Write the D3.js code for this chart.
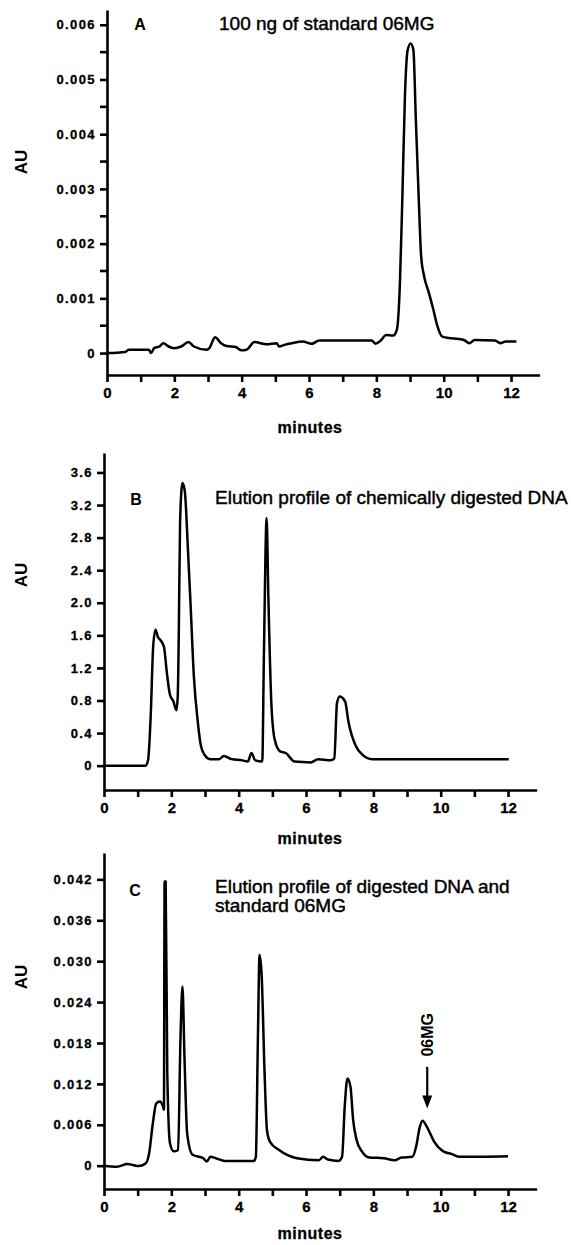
<!DOCTYPE html>
<html>
<head>
<meta charset="utf-8">
<script src="https://cdn.jsdelivr.net/npm/d3@7"></script>
<style>
  body { margin: 0; background: #fff; }
  svg { display: block; font-family: "Liberation Sans", Arial, sans-serif; }
</style>
</head>
<body>
<div id="chart"></div>
<script>
// panel A - standard 06MG
const timeA = [0, 0.54, 0.65, 1.24, 1.31, 1.40, 1.56, 1.67, 1.83, 1.99, 2.2, 2.42, 2.58, 2.96, 3.04, 3.21, 3.39, 3.55, 3.82, 4.0,
  4.14, 4.38, 4.74, 5.04, 5.11, 5.27, 5.49, 5.81, 6.08, 6.3, 7.86, 7.97, 8.13, 8.29, 8.5, 8.61, 8.70, 8.77, 8.85, 8.93,
  9.02, 9.10, 9.17, 9.26, 9.33, 9.42, 9.56, 9.69, 9.80, 9.96, 10.23, 10.6, 10.76, 10.92, 11.52, 11.68, 11.84, 12.16];
const auA = [0, 0.00002, 0.00006, 0.00006, 0, 0.00009, 0.00012, 0.00018, 0.00012, 0.00009, 0.00012, 0.0002, 0.00012, 0.00006, 0.00009, 0.00029, 0.00018, 0.00013, 0.00011, 0.00005,
  0.00006, 0.0002, 0.00016, 0.00018, 0.00012, 0.00015, 0.00018, 0.00021, 0.00017, 0.00023, 0.00023, 0.00017, 0.00023, 0.00033, 0.00032, 0.00043, 0.00128, 0.0028, 0.00472, 0.00554,
  0.00566, 0.00554, 0.00432, 0.0028, 0.00177, 0.0014, 0.0011, 0.0008, 0.00052, 0.0003, 0.00027, 0.00024, 0.00018, 0.00024, 0.00023, 0.00018, 0.00021, 0.00021];
const ticksA = [0, 0.001, 0.002, 0.003, 0.004, 0.005, 0.006];
const minorA = [0.0005, 0.0015, 0.0025, 0.0035, 0.0045, 0.0055];

// panel B - chemically digested DNA
const timeB = [0, 1.23, 1.31, 1.39, 1.46, 1.53, 1.60, 1.68, 1.78, 1.87, 1.96, 2.06, 2.15, 2.19, 2.22, 2.26, 2.33, 2.40, 2.49, 2.57,
  2.67, 2.78, 2.88, 2.99, 3.15, 3.42, 3.56, 3.79, 4.11, 4.27, 4.38, 4.49, 4.70, 4.75, 4.83, 4.88, 4.97, 5.07, 5.23, 5.40,
  5.66, 6.14, 6.36, 6.73, 6.84, 6.92, 7.0, 7.16, 7.26, 7.48, 7.69, 7.96, 12.02];
const auB = [0, 0, 0.07, 0.64, 1.46, 1.67, 1.58, 1.54, 1.46, 1.13, 0.87, 0.79, 0.68, 0.85, 1.58, 3.0, 3.47, 3.37, 2.68, 1.99,
  1.09, 0.56, 0.24, 0.13, 0.08, 0.08, 0.12, 0.08, 0.065, 0.05, 0.155, 0.065, 0.05, 1.38, 3.04, 2.1, 0.77, 0.32, 0.175, 0.155,
  0.05, 0.04, 0.08, 0.065, 0.09, 0.77, 0.85, 0.79, 0.54, 0.24, 0.13, 0.08, 0.08];
const ticksB = [0, 0.4, 0.8, 1.2, 1.6, 2.0, 2.4, 2.8, 3.2, 3.6];

// panel C - digested DNA + standard
const timeC = [0, 0.38, 0.7, 0.86, 1.02, 1.23, 1.34, 1.45, 1.55, 1.66, 1.75, 1.78, 1.80, 1.83, 1.88, 1.96, 2.07, 2.20, 2.27, 2.33,
  2.39, 2.47, 2.63, 2.95, 3.05, 3.16, 3.32, 3.59, 4.45, 4.51, 4.57, 4.62, 4.68, 4.77, 4.84, 4.93, 5.20, 5.73, 6.38, 6.51,
  6.65, 6.97, 7.07, 7.15, 7.23, 7.32, 7.40, 7.50, 7.66, 7.88, 8.31, 8.63, 8.84, 9.16, 9.27, 9.38, 9.46, 9.59, 9.81, 10.08,
  10.34, 10.56, 12.0];
const auC = [0, -0.00015, 0.00024, 0.0001, -0.00005, 0.0003, 0.0018, 0.0062, 0.0091, 0.0094, 0.0087, 0.0082, 0.0417, 0.0417, 0.0135, 0.0033, 0.0021, 0.0023, 0.0184, 0.0263,
  0.016, 0.0047, 0.0016, 0.0011, 0.0006, 0.0013, 0.0011, 0.0007, 0.0007, 0.0013, 0.0184, 0.0309, 0.0282, 0.0135, 0.0052, 0.0035, 0.0023, 0.0011, 0.0008, 0.0013,
  0.0009, 0.0007, 0.0013, 0.0087, 0.0128, 0.0116, 0.0067, 0.0038, 0.0021, 0.0012, 0.0011, 0.0008, 0.0012, 0.0013, 0.0028, 0.0057, 0.0066, 0.0057, 0.0035, 0.0021,
  0.0017, 0.0013, 0.0014];
const ticksC = [0, 0.006, 0.012, 0.018, 0.024, 0.030, 0.036, 0.042];
const labelsC = ['0', '0.006', '0.012', '0.018', '0.024', '0.030', '0.036', '0.042'];

// x axis (minutes)
const xTicks = [0, 1, 2, 3, 4, 5, 6, 7, 8, 9, 10, 11, 12];

// arrow marking the 06MG peak in C
const arrowMin = 9.6;
const arrowTop = 0.0145, arrowTip = 0.0084;

const width = 571, height = 1245;
const svg = d3.select('#chart').append('svg')
  .attr('width', width)
  .attr('height', height);

function drawPanel(p) {
  const x = d3.scaleLinear().domain([0, 12.85]).range([p.x0, p.x0 + 12.85 * 33.67]);
  const y = d3.scaleLinear().domain(p.yDomain).range([p.axisY, p.topY]);
  const g = svg.append('g');

  // y axis
  const yAxis = g.append('g')
    .attr('transform', `translate(${p.x0},0)`)
    .call(d3.axisLeft(y).tickValues(p.ticks).tickSize(7).tickSizeOuter(0).tickPadding(4)
      .tickFormat((d, i) => p.labels ? p.labels[i] : (d === 0 ? '0' : p.fmt(d))));
  if (p.minor) {
    yAxis.selectAll('.minor').data(p.minor).enter().append('line')
      .attr('class', 'minor')
      .attr('x1', -7).attr('x2', 0)
      .attr('y1', d => y(d)).attr('y2', d => y(d));
  }

  // x axis
  const xAxis = g.append('g')
    .attr('transform', `translate(0,${p.axisY})`)
    .call(d3.axisBottom(x).tickValues(xTicks).tickSize(7).tickSizeOuter(0).tickPadding(5)
      .tickFormat(d => d % 2 === 0 ? d : ''));

  [yAxis, xAxis].forEach(a => {
    a.attr('font-family', null).attr('font-size', null);
    a.selectAll('path, line').attr('stroke', '#000').attr('stroke-width', 2.6);
  });
  yAxis.selectAll('text')
    .style('font-size', '13px').style('font-weight', 'bold').style('letter-spacing', '1.4px')
    .attr('fill', '#000').attr('stroke', '#000').attr('stroke-width', 0.3);
  xAxis.selectAll('text')
    .style('font-size', '15px').style('font-weight', 'bold')
    .attr('fill', '#000').attr('stroke', '#000').attr('stroke-width', 0.3);

  // trace
  const pts = p.time.map((t, i) => [t, p.au[i]]);
  g.append('path')
    .datum(pts)
    .attr('fill', 'none')
    .attr('stroke', '#000')
    .attr('stroke-width', 2.5)
    .attr('stroke-linejoin', 'round')
    .attr('d', d3.line().x(d => x(d[0])).y(d => y(d[1])).curve(d3.curveMonotoneX));

  // labels
  g.append('text')
    .attr('transform', `translate(21,${p.auY}) rotate(-90)`)
    .attr('text-anchor', 'middle')
    .attr('dy', '0.36em')
    .style('font-size', '17px').style('font-weight', 'bold')
    .text('AU');
  g.append('text')
    .attr('x', 310).attr('y', p.minY)
    .attr('text-anchor', 'middle')
    .attr('dy', '0.36em')
    .attr('stroke', '#000').attr('stroke-width', 0.3)
    .style('font-size', '16px').style('font-weight', 'bold').style('letter-spacing', '0.5px')
    .text('minutes');
  g.append('text')
    .attr('x', p.letterX).attr('y', p.letterY)
    .attr('text-anchor', 'middle')
    .style('font-size', '16px').style('font-weight', 'bold')
    .text(p.letter);
  p.title.forEach((line, i) => {
    g.append('text')
      .attr('x', p.titleX).attr('y', p.titleY + i * 19)
      .attr('stroke', '#000').attr('stroke-width', 0.45)
      .style('font-size', '19px')
      .text(line);
  });
  return { x, y, g };
}

drawPanel({
  time: timeA, au: auA, ticks: ticksA, minor: minorA, fmt: d3.format('.3f'),
  x0: 107, axisY: 375, topY: 10, yDomain: [-0.000401, 0.00627],
  auY: 162, minY: 427, letter: 'A', letterX: 140, letterY: 30,
  title: ['100 ng of standard 06MG'], titleX: 219, titleY: 30
});

drawPanel({
  time: timeB, au: auB, ticks: ticksB, fmt: d3.format('.1f'),
  x0: 104, axisY: 790, topY: 453, yDomain: [-0.299, 3.839],
  auY: 575, minY: 838, letter: 'B', letterX: 136, letterY: 505,
  title: ['Elution profile of chemically digested DNA'], titleX: 215, titleY: 504
});

const c = drawPanel({
  time: timeC, au: auC, ticks: ticksC, labels: labelsC,
  x0: 104, axisY: 1189, topY: 853, yDomain: [-0.00342, 0.04587],
  auY: 977, minY: 1233, letter: 'C', letterX: 135, letterY: 896,
  title: ['Elution profile of digested DNA and', 'standard 06MG'], titleX: 215, titleY: 893
});

// 06MG arrow
const ax = c.x(arrowMin);
c.g.append('line')
  .attr('x1', ax).attr('x2', ax)
  .attr('y1', c.y(arrowTop)).attr('y2', c.y(arrowTip) - 12)
  .attr('stroke', '#000').attr('stroke-width', 2.2);
c.g.append('path')
  .attr('d', `M${ax - 5},${c.y(arrowTip) - 13}L${ax + 5},${c.y(arrowTip) - 13}L${ax},${c.y(arrowTip)}Z`)
  .attr('fill', '#000');
c.g.append('text')
  .attr('transform', `translate(${ax},${c.y(arrowTop) - 32}) rotate(-90)`)
  .attr('text-anchor', 'middle')
  .attr('dy', '0.36em')
  .style('font-size', '16px').style('font-weight', 'bold')
  .text('06MG');
</script>
</body>
</html>
